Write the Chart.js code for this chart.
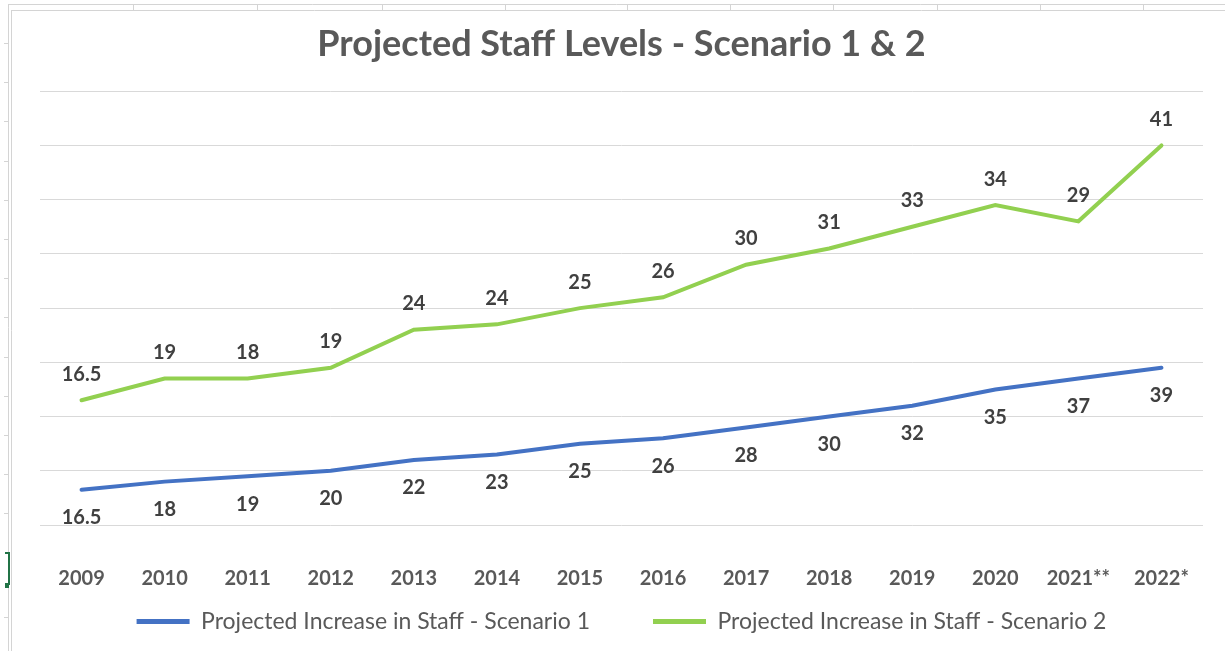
<!DOCTYPE html>
<html>
<head>
<meta charset="utf-8">
<script src="https://cdn.jsdelivr.net/npm/chart.js@4/dist/chart.umd.min.js"></script>
<style>
  html, body { margin: 0; padding: 0; background: #ffffff; }
  #wrap { position: relative; width: 1225px; height: 651px; }
</style>
</head>
<body>
<div id="wrap"><canvas id="c" width="1225" height="651"></canvas></div>
<script>
const categories = ['2009','2010','2011','2012','2013','2014','2015','2016','2017','2018','2019','2020','2021**','2022*'];
const scenario1 = [16.5, 18, 19, 20, 22, 23, 25, 26, 28, 30, 32, 35, 37, 39];
const scenario2 = [16.5, 19, 18, 19, 24, 24, 25, 26, 30, 31, 33, 34, 29, 41];
const seriesNames = ['Projected Increase in Staff - Scenario 1', 'Projected Increase in Staff - Scenario 2'];
const chartTitle = 'Projected Staff Levels - Scenario 1 & 2';
const yMin = 10, yMax = 90, yStep = 10;

const BLUE = '#4472C4';
const GREEN = '#92D050';
const LEGEND_TEXT_Y = 621.5;

const sheetFrame = {
  id: 'sheetFrame',
  beforeDraw(chart) {
    const ctx = chart.ctx;
    ctx.save();
    ctx.fillStyle = '#ffffff';
    ctx.fillRect(0, 0, chart.width, chart.height);
    ctx.strokeStyle = '#d4d4d4';
    ctx.lineWidth = 1;
    ctx.beginPath();
    ctx.moveTo(8, 4.5); ctx.lineTo(1225, 4.5);
    ctx.moveTo(11, 10.5); ctx.lineTo(1225, 10.5);
    ctx.moveTo(8.5, 4); ctx.lineTo(8.5, 651);
    ctx.moveTo(11.5, 10); ctx.lineTo(11.5, 651);
    [133, 257, 382, 505, 627, 730, 833, 937, 1040, 1143].forEach(x => {
      ctx.moveTo(x + 0.5, 4); ctx.lineTo(x + 0.5, 10);
    });
    for (let y = 43; y < 540; y += 39.2) {
      ctx.moveTo(4, Math.round(y) + 0.5); ctx.lineTo(8, Math.round(y) + 0.5);
    }
    ctx.moveTo(4, 617.5); ctx.lineTo(8, 617.5);
    ctx.stroke();
    ctx.strokeStyle = '#217346';
    ctx.lineWidth = 2;
    ctx.beginPath();
    ctx.moveTo(5, 553); ctx.lineTo(9, 553); ctx.lineTo(9, 585);
    ctx.stroke();
    ctx.fillStyle = '#217346';
    ctx.fillRect(5, 583, 4, 5);
    ctx.restore();
    // place the legend row (the legend box itself is kept short in the layout)
    const lg = chart.legend;
    if (lg) {
      const pad = lg.options.labels.padding;
      const fs = lg.options.labels.font.size;
      lg.top = LEGEND_TEXT_Y - fs / 2 - pad;
      lg.bottom = chart.height;
    }
  }
};

const valueLabels = {
  id: 'valueLabels',
  afterDatasetsDraw(chart) {
    const ctx = chart.ctx;
    ctx.save();
    ctx.font = 'bold 20px Lato';
    ctx.fillStyle = '#404040';
    ctx.textAlign = 'center';
    ctx.textBaseline = 'middle';
    chart.data.datasets.forEach((ds, i) => {
      const meta = chart.getDatasetMeta(i);
      const off = ds.labelOffset;
      meta.data.forEach((pt, j) => {
        ctx.fillText(String(ds.data[j]), pt.x, pt.y + off);
      });
    });
    ctx.restore();
  }
};

new Chart(document.getElementById('c'), {
  type: 'line',
  data: {
    labels: categories,
    datasets: [
      { label: seriesNames[0], data: scenario1, borderColor: BLUE, backgroundColor: BLUE,
        borderWidth: 4, pointRadius: 0, tension: 0, fill: false, borderCapStyle: 'round', labelOffset: 28 },
      { label: seriesNames[1], data: scenario2, borderColor: GREEN, backgroundColor: GREEN,
        borderWidth: 4, pointRadius: 0, tension: 0, fill: false, borderCapStyle: 'round', labelOffset: -26 }
    ]
  },
  options: {
    responsive: false,
    animation: false,
    layout: { padding: { left: 40, right: 22, top: 0, bottom: 0 } },
    scales: {
      x: {
        offset: true,
        grid: { display: false, drawTicks: false },
        border: { display: false },
        ticks: { font: { family: 'Lato', size: 20, weight: 'bold' }, color: '#595959', padding: 42, maxRotation: 0, autoSkip: false },
        afterFit(scale) { scale.paddingLeft = 0; scale.paddingRight = 0; }
      },
      y: {
        stacked: true,
        min: yMin, max: yMax,
        grid: { color: '#d9d9d9', lineWidth: 1, drawTicks: false },
        border: { display: false },
        ticks: { display: false, stepSize: yStep }
      }
    },
    plugins: {
      title: {
        display: true, text: chartTitle, color: '#595959',
        font: { family: 'Lato', size: 36, weight: 'bold' },
        padding: { top: 23, bottom: 25 }
      },
      legend: {
        position: 'bottom',
        maxHeight: 18,
        labels: {
          font: { family: 'Lato', size: 23 }, color: '#595959',
          boxWidth: 53, boxHeight: 5, padding: 63,
          generateLabels(chart) {
            const items = Chart.defaults.plugins.legend.labels.generateLabels(chart);
            items.forEach(it => { it.lineWidth = 0; });
            return items;
          }
        }
      },
      tooltip: { enabled: false }
    }
  },
  plugins: [sheetFrame, valueLabels]
});
</script>
</body>
</html>
